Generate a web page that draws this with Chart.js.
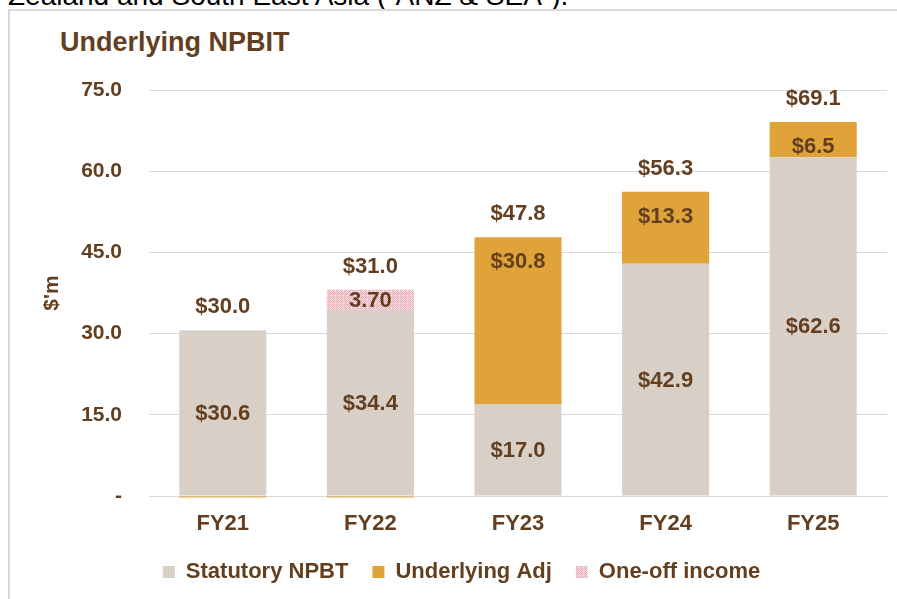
<!DOCTYPE html>
<html><head><meta charset="utf-8">
<script src="https://cdn.jsdelivr.net/npm/chart.js@4.4.1/dist/chart.umd.min.js"></script>
<style>
html,body{margin:0;padding:0;width:897px;height:599px;overflow:hidden;background:#fff;}
#hdr{position:absolute;left:8px;top:-18px;font:28px "Liberation Sans",Arial,sans-serif;color:#000;white-space:nowrap;line-height:28px;}
#frame{position:absolute;left:8px;top:9px;width:1000px;height:700px;border:2px solid #d9d9d9;box-sizing:border-box;}
#title{position:absolute;left:60px;top:29px;font:bold 27px "Liberation Sans",Arial,sans-serif;color:#633F1F;line-height:27px;white-space:nowrap;}
#wrap{position:absolute;left:0;top:0;width:897px;height:599px;}
</style></head>
<body>
<div id="hdr">Zealand and South East Asia (“ANZ &amp; SEA”).</div>
<div id="frame"></div>
<div id="title">Underlying NPBIT</div>
<div id="wrap"><canvas id="c" width="897" height="599"></canvas></div>
<script>
// ---- data ----
const categories = ['FY21', 'FY22', 'FY23', 'FY24', 'FY25'];
const statutoryNPBT = [30.6, 34.4, 17.0, 42.9, 62.6];
const underlyingAdj = [-0.3, -0.3, 30.8, 13.3, 6.5];
const oneOffIncome = [null, 3.7, null, null, null];
const underlyingTotal = [30.0, 31.0, 47.8, 56.3, 69.1];
const yTicks = [0, 15, 30, 45, 60, 75];
const seriesNames = ['Statutory NPBT', 'Underlying Adj', 'One-off income'];

const TEXT = '#633F1F';
const FONT = '"Liberation Sans", Arial, sans-serif';

function makePattern() {
  const p = document.createElement('canvas');
  p.width = 4; p.height = 4;
  const g = p.getContext('2d');
  g.fillStyle = '#f7dde1'; g.fillRect(0, 0, 4, 4);
  g.fillStyle = '#e6a8b2';
  g.fillRect(0, 0, 1, 1); g.fillRect(2, 0, 1, 1);
  g.fillRect(1, 1, 1, 1); g.fillRect(3, 1, 1, 1);
  g.fillRect(0, 2, 1, 1); g.fillRect(2, 2, 1, 1);
  g.fillRect(1, 3, 1, 1);
  return document.getElementById('c').getContext('2d').createPattern(p, 'repeat');
}
const pattern = makePattern();

const labelPlugin = {
  id: 'labels',
  afterDatasetsDraw(chart) {
    const ctx = chart.ctx;
    ctx.save();
    ctx.fillStyle = TEXT;
    ctx.font = 'bold 22px ' + FONT;
    ctx.textAlign = 'center';
    ctx.textBaseline = 'middle';
    const m0 = chart.getDatasetMeta(0), m1 = chart.getDatasetMeta(1), m2 = chart.getDatasetMeta(2);
    categories.forEach((c, i) => {
      const e0 = m0.data[i];
      ctx.fillText('$' + statutoryNPBT[i].toFixed(1), e0.x, (e0.y + e0.base) / 2 + 1);
      const e1 = m1.data[i];
      if (underlyingAdj[i] > 0) {
        ctx.fillText('$' + underlyingAdj[i].toFixed(1), e1.x, e1.y + 25);
      }
      const e2 = m2.data[i];
      if (oneOffIncome[i] != null) {
        ctx.fillText(oneOffIncome[i].toFixed(2), e2.x, (e2.y + e2.base) / 2 + 1);
      }
      let top = e0.y;
      if (underlyingAdj[i] > 0) top = Math.min(top, e1.y);
      if (oneOffIncome[i] != null) top = Math.min(top, e2.y);
      ctx.fillText('$' + underlyingTotal[i].toFixed(1), e0.x, top - 23);
    });
    ctx.restore();
  }
};

new Chart(document.getElementById('c'), {
  type: 'bar',
  data: {
    labels: categories,
    datasets: [
      { label: seriesNames[0], data: statutoryNPBT, backgroundColor: '#d8d0c7' },
      { label: seriesNames[1], data: underlyingAdj, backgroundColor: '#e0a33a', clip: false },
      { label: seriesNames[2], data: oneOffIncome, backgroundColor: pattern }
    ]
  },
  options: {
    responsive: false,
    animation: false,
    devicePixelRatio: 1,
    datasets: { bar: { categoryPercentage: 1, barPercentage: 0.59, borderWidth: 0 } },
    layout: { padding: { left: 36, right: 10, top: 90, bottom: 6 } },
    plugins: {
      tooltip: { enabled: false },
      legend: {
        position: 'bottom',
        labels: {
          color: TEXT, font: { family: FONT, size: 22, weight: 'bold' },
          boxWidth: 12, boxHeight: 12, padding: 24
        }
      }
    },
    scales: {
      x: {
        stacked: true,
        grid: { display: false },
        border: { color: '#d9d9d9', width: 1 },
        ticks: { color: TEXT, font: { family: FONT, size: 22, weight: 'bold' }, padding: 7 },
        afterFit(s) { s.height = 41; }
      },
      y: {
        stacked: true,
        min: 0, max: 75,
        afterBuildTicks(s) { s.ticks = yTicks.map(v => ({ value: v })); },
        grid: { color: '#d9d9d9', lineWidth: 1, drawTicks: false },
        border: { display: false },
        ticks: {
          color: TEXT, font: { family: FONT, size: 21, weight: 'bold' }, padding: 27,
          callback: v => v === 0 ? '-' : v.toFixed(1)
        },
        title: { display: true, text: "$'m", color: TEXT, font: { family: FONT, size: 21, weight: 'bold' }, padding: 4 },
        afterFit(s) { s.width = 113; }
      }
    }
  },
  plugins: [labelPlugin]
});
</script>
</body></html>
